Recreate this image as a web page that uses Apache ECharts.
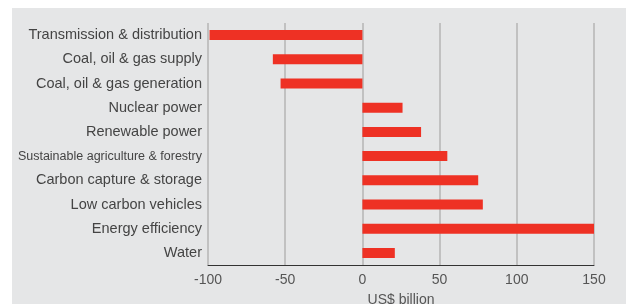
<!DOCTYPE html>
<html>
<head>
<meta charset="utf-8">
<script src="https://cdn.jsdelivr.net/npm/echarts@6/dist/echarts.min.js"></script>
<style>
  html, body { margin: 0; padding: 0; background: #fff; }
  #main { width: 629px; height: 304px; }
</style>
</head>
<body>
<div id="main"></div>
<script>
// categories top to bottom
var categories = [
  'Transmission & distribution',
  'Coal, oil & gas supply',
  'Coal, oil & gas generation',
  'Nuclear power',
  'Renewable power',
  'Sustainable agriculture & forestry',
  'Carbon capture & storage',
  'Low carbon vehicles',
  'Energy efficiency',
  'Water'
];
var values = [-99, -58, -53, 26, 38, 55, 75, 78, 150, 21];
var xTicks = [-100, -50, 0, 50, 100, 150];

var chart = echarts.init(document.getElementById('main'));
chart.setOption({
  animation: false,
  textStyle: { fontFamily: 'Liberation Sans, Arial, sans-serif' },
  graphic: [{
    type: 'rect',
    z: -10,
    shape: { x: 12, y: 8, width: 614, height: 296 },
    style: { fill: '#e5e6e7' }
  }],
  grid: { left: 208, right: 35, top: 23, bottom: 39, outerBoundsMode: 'none', containLabel: false },
  xAxis: {
    type: 'value',
    min: xTicks[0],
    max: xTicks[xTicks.length - 1],
    interval: 50,
    name: 'US$ billion',
    nameLocation: 'middle',
    nameGap: 28,
    nameTextStyle: { color: '#555', fontSize: 14 },
    axisLine: { show: true, lineStyle: { color: '#333', width: 1 } },
    axisTick: { show: false },
    axisLabel: { color: '#555', fontSize: 14, margin: 8 },
    splitLine: { show: true, lineStyle: { color: '#b5b5b5', width: 1.5 } }
  },
  yAxis: {
    type: 'category',
    inverse: true,
    data: categories,
    axisLine: { show: false },
    axisTick: { show: false },
    axisLabel: {
      color: '#444',
      fontSize: 14.5,
      margin: 6,
      formatter: function (v) {
        return v.indexOf('Sustainable') === 0 ? '{s|' + v + '}' : v;
      },
      rich: { s: { fontSize: 12.5, color: '#444' } }
    }
  },
  series: [{
    type: 'bar',
    data: values,
    barWidth: 10,
    itemStyle: { color: '#ee3124' }
  }]
});
</script>
</body>
</html>
